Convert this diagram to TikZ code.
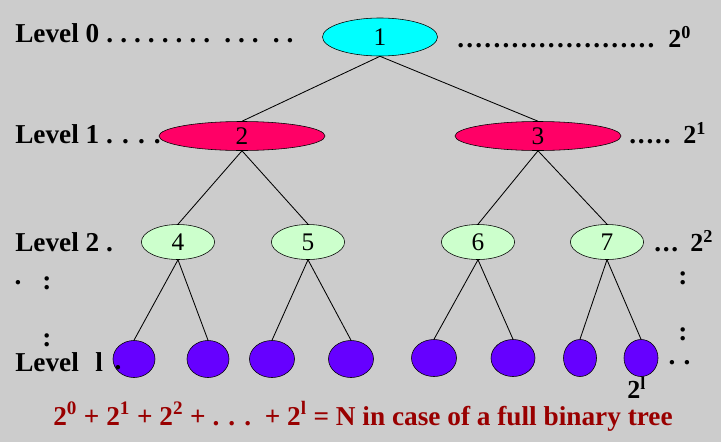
\documentclass[tikz,border=0pt]{standalone}
\usepackage{fontspec}
\setmainfont{Liberation Serif}
\usepackage{tikz}
\usetikzlibrary{shapes.geometric}
\usepackage{xcolor}
\definecolor{bggray}{RGB}{204,204,204}
\definecolor{rootcyan}{RGB}{0,255,255}
\definecolor{lvlone}{RGB}{255,0,102}
\definecolor{lvltwo}{RGB}{204,255,204}
\definecolor{leafpurple}{RGB}{102,0,255}
\definecolor{sumred}{RGB}{153,0,0}
\newcommand{\dotrow}[2]{\foreach \k in {1,...,#1}{.\kern#2}}

\tikzset{
	treenode/.style={ellipse, draw=black, inner sep=0pt, font=\fontsize{18}{20}\selectfont},
	leaf/.style={ellipse, draw=black, fill=leafpurple, inner sep=0pt, minimum height=0.925cm},
	lvltext/.style={anchor=base west, inner sep=0pt, font=\fontsize{19.4}{22}\selectfont\bfseries},
	powtext/.style={anchor=base west, inner sep=0pt, font=\fontsize{18.5}{20}\selectfont\bfseries},
	dotmark/.style={inner sep=0pt, font=\fontsize{19.4}{22}\selectfont\bfseries},
	branch/.style={draw=black, line width=0.6pt}
}

\begin{document}
\begin{tikzpicture}[x=0.025cm, y=-0.025cm]
	\fill[bggray] (0,0) rectangle (721,442);
	\useasboundingbox (0,0) rectangle (721,442);
	% the tree
	\node[name=n1, treenode, fill=rootcyan, minimum width=2.875cm, minimum height=0.95cm] at (380,37) {1};
	\node[name=n2, treenode, fill=lvlone, minimum width=4.15cm, minimum height=0.725cm] at (242,136) {2};
	\node[name=n3, treenode, fill=lvlone, minimum width=4.15cm, minimum height=0.725cm] at (538,136) {3};
	\node[name=n4, treenode, fill=lvltwo, minimum width=1.83cm, minimum height=0.875cm] at (178,242) {4};
	\node[name=n5, treenode, fill=lvltwo, minimum width=1.83cm, minimum height=0.875cm] at (308,242) {5};
	\node[name=n6, treenode, fill=lvltwo, minimum width=1.83cm, minimum height=0.875cm] at (478,242) {6};
	\node[name=n7, treenode, fill=lvltwo, minimum width=1.83cm, minimum height=0.875cm] at (607,242) {7};
	\node[name=m1, leaf, minimum width=1.05cm] at (134,359) {};
	\node[name=m2, leaf, minimum width=1.05cm] at (208,359) {};
	\node[name=m3, leaf, minimum width=1.125cm] at (272,359) {};
	\node[name=m4, leaf, minimum width=1.125cm] at (351,359) {};
	\node[name=m5, leaf, minimum width=1.125cm] at (434,358) {};
	\node[name=m6, leaf, minimum width=1.1cm] at (513,358) {};
	\node[name=m7, leaf, minimum width=0.825cm] at (580,358) {};
	\node[name=m8, leaf, minimum width=0.85cm] at (641,358) {};
	\draw[branch] (n1.south) -- (n2.north);
	\draw[branch] (n1.south) -- (n3.north);
	\draw[branch] (n2.south) -- (n4.north);
	\draw[branch] (n2.south) -- (n5.north);
	\draw[branch] (n3.south) -- (n6.north);
	\draw[branch] (n3.south) -- (n7.north);
	\draw[branch] (n4.south) -- (m1.north);
	\draw[branch] (n4.south) -- (m2.north);
	\draw[branch] (n5.south) -- (m3.north);
	\draw[branch] (n5.south) -- (m4.north);
	\draw[branch] (n6.south) -- (m5.north);
	\draw[branch] (n6.south) -- (m6.north);
	\draw[branch] (n7.south) -- (m7.north);
	\draw[branch] (n7.south) -- (m8.north);
	% level labels on the left
	\node[name=lv0, lvltext] at (15,42) {Level 0\kern5pt\dotrow{8}{5pt}\kern5pt\dotrow{3}{5pt}\kern5pt\dotrow{2}{5pt}};
	\node[name=lv1, lvltext] at (15,143) {Level 1 . . . .};
	\node[name=lv2, lvltext] at (15,251) {Level 2 .};
	\node[name=lvl, lvltext] at (15,371) {Level\hspace{0.6em}l};
	\node[name=da, dotmark] at (18,283) {.};
	\node[name=ca, dotmark] at (47,283) {:};
	\node[name=cb, dotmark] at (47,340) {:};
	\node[name=db, dotmark] at (118,368) {.};
	% node counts on the right
	\node[name=r0, dotmark, anchor=base west] at (457,47) {\dotrow{22}{1.6pt}};
	\node[name=p0, powtext] at (668,47) {2\textsuperscript{0}};
	\node[name=r1, dotmark, anchor=base west] at (629,143) {\dotrow{5}{1.3pt}};
	\node[name=p1, powtext] at (683,143) {2\textsuperscript{1}};
	\node[name=r2, dotmark, anchor=base west] at (654,251) {\dotrow{3}{1.2pt}};
	\node[name=p2, powtext] at (690,251) {2\textsuperscript{2}};
	\node[name=cc, dotmark] at (683,278) {:};
	\node[name=cd, dotmark] at (683,334) {:};
	\node[name=dc, dotmark] at (672,363) {.};
	\node[name=dd, dotmark] at (687,363) {.};
	\node[name=pl, powtext] at (627,398) {2\textsuperscript{l}};
	% the sum
	\node[name=sum, lvltext, text=sumred] at (53,425) {2\textsuperscript{0} + 2\textsuperscript{1} + 2\textsuperscript{2} + . . .\ \ + 2\textsuperscript{l} = N in case of a full binary tree};
\end{tikzpicture}
\end{document}
